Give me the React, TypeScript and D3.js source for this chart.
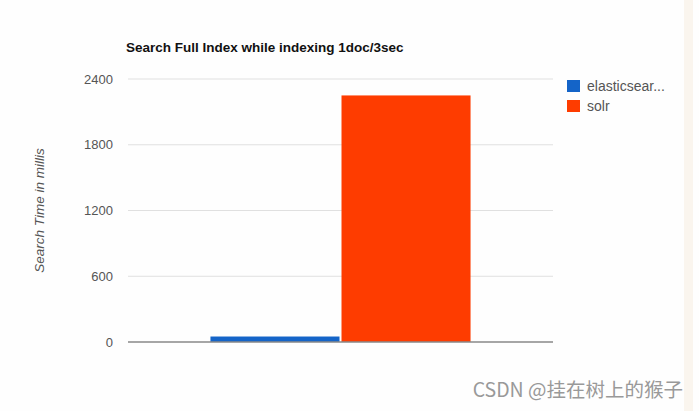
import React from "react";
import * as d3 from "d3";

const categories = ["Search Full Index"];
const seriesNames = ["elasticsearch", "solr"];
const legendLabels = ["elasticsear...", "solr"];
const elasticValues = [50];
const solrValues = [2250];
const yTicks = [0, 600, 1200, 1800, 2400];
const colors = ["#1464c8", "#fe3c00"];

const W = 699;
const H = 411;
const margin = { left: 128, right: 146, top: 79, bottom: 69 };

export default function App() {
  const innerW = W - margin.left - margin.right;
  const innerH = H - margin.top - margin.bottom;
  const x0 = d3.scaleBand().domain(categories).range([margin.left, margin.left + innerW]).paddingInner(0).paddingOuter(0.317);
  const x1 = d3.scaleBand().domain(seriesNames).range([0, x0.bandwidth()]).padding(0);
  const y = d3.scaleLinear().domain([0, 2400]).range([margin.top + innerH, margin.top]);
  const data = categories.map((c, i) => ({ c, vals: [elasticValues[i], solrValues[i]] }));

  return (
    <svg width={W} height={H} style={{ position: "absolute", left: 0, top: 0, background: "#fff" }} fontFamily="'Liberation Sans', Arial, sans-serif">
      <rect x={0} y={0} width={W} height={H} fill="#fefefe" />
      <rect x={684} y={0} width={9} height={H} fill="#faf5ee" />
      <text x={126} y={52} fontSize={13.5} fontWeight="bold" fill="#111">Search Full Index while indexing 1doc/3sec</text>
      {yTicks.map((t) => (
        <g key={t}>
          {t !== 0 && <line x1={margin.left} x2={margin.left + innerW} y1={y(t)} y2={y(t)} stroke="#e0e0e0" strokeWidth={1} />}
          <text x={113} y={y(t)} dy="0.35em" textAnchor="end" fontSize={13} fill="#555">{t}</text>
        </g>
      ))}
      <text transform={`translate(44, ${(y(0) + y(2400)) / 2}) rotate(-90)`} textAnchor="middle" fontSize={13.5} fontStyle="italic" fill="#555">Search Time in millis</text>
      {data.map((d) => (
        <g key={d.c} transform={`translate(${x0(d.c)},0)`}>
          {seriesNames.map((s, j) => (
            <rect key={s} x={x1(s)! + (j === 1 ? 1 : 0)} width={x1.bandwidth() - 1} y={y(d.vals[j])} height={y(0) - y(d.vals[j])} fill={colors[j]} />
          ))}
        </g>
      ))}
      <line x1={margin.left} x2={margin.left + innerW} y1={y(0)} y2={y(0)} stroke="#888" strokeWidth={1.5} />
      {legendLabels.map((l, i) => (
        <g key={l} transform={`translate(567, ${80 + i * 20})`}>
          <rect x={0} y={0} width={13} height={12} fill={colors[i]} />
          <text x={20} y={6} dy="0.35em" fontSize={14} fill="#555">{l}</text>
        </g>
      ))}
      <text x={683} y={397} textAnchor="end" fontSize={19.5} fill="#999" fontFamily="'Noto Sans CJK SC', 'Noto Sans', sans-serif">CSDN @挂在树上的猴子</text>
    </svg>
  );
}
